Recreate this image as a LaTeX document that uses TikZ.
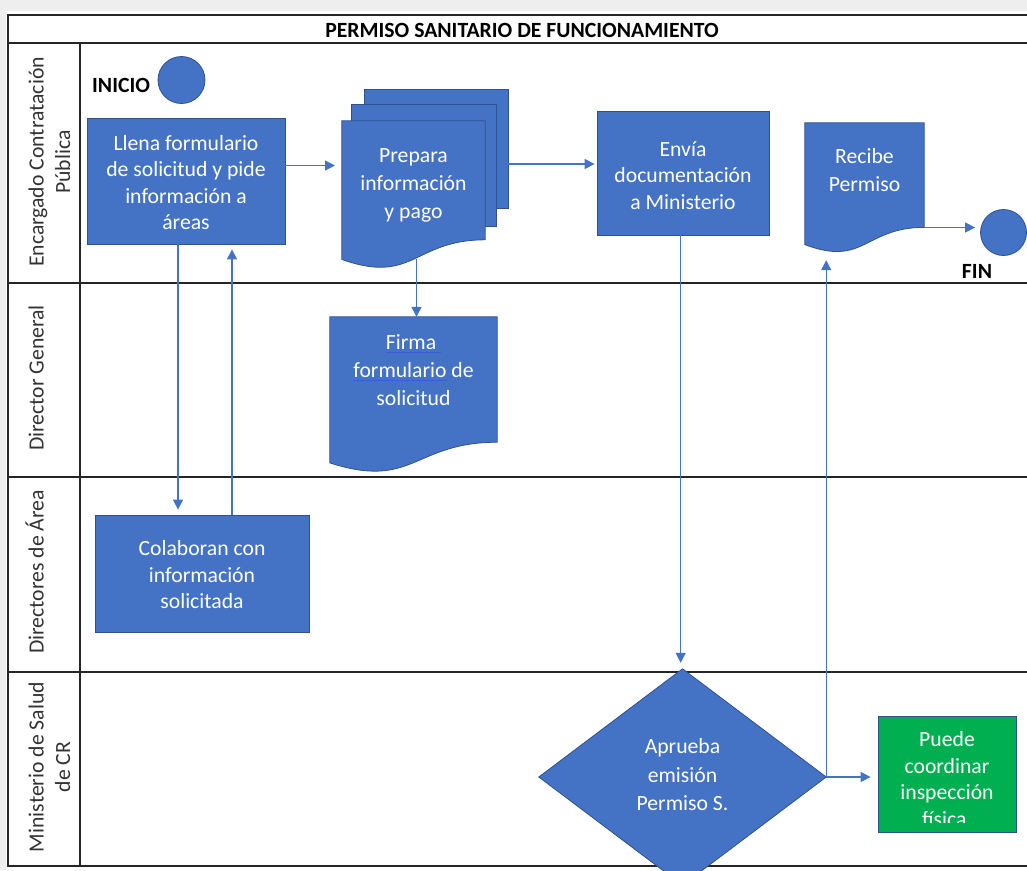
\documentclass[tikz,border=0pt]{standalone}
\usepackage{fontspec}
\setmainfont{Carlito}
\usetikzlibrary{arrows.meta,calc}
\definecolor{boxblue}{HTML}{4472C4}
\definecolor{edgeblue}{HTML}{2F528F}
\definecolor{okgreen}{HTML}{00B050}
\definecolor{spellblue}{HTML}{3B5BDB}
\definecolor{pagegray}{HTML}{EEEEEE}
% blue underline placed under a word
\newcommand\spellmark[1]{\setbox0\hbox{#1}\rlap{\color{spellblue}\rule[-4pt]{\wd0}{1.1pt}}\box0\relax}
% wavy-bottomed document outline drawn on a frame node
\newcommand\docpath[1]{(#1.north west) -- (#1.north east)
  -- ($(#1.north east)!0.802!(#1.south east)$)
  .. controls ($(#1.north)!0.802!(#1.south)$) and ($(#1.north)!1.107!(#1.south)$)
  .. ($(#1.north west)!0.934!(#1.south west)$) -- cycle}
\begin{document}
\begin{tikzpicture}[x=1pt,y=-1pt,
  every node/.style={font=\fontsize{21.7}{26.5}\selectfont},
  lane/.style={draw=black!85,line width=1.5pt},
  task/.style={fill=boxblue,draw=edgeblue,line width=0.8pt,inner sep=0pt},
  boxtext/.style={text=white,align=center,inner sep=0pt},
  frame/.style={draw=none,inner sep=0pt},
  shapefill/.style={fill=boxblue,draw=edgeblue,line width=0.8pt},
  flow/.style={draw=boxblue,line width=1.3pt,-{Triangle[length=10pt,width=10pt]}},
  lanelabel/.style={rotate=90,align=center,text=black!80,inner sep=0pt,anchor=base},
  term/.style={circle,fill=boxblue,draw=edgeblue,line width=0.8pt,minimum size=47pt,inner sep=0pt},
  termlabel/.style={font=\fontsize{21.7}{26.5}\selectfont\bfseries,inner sep=0pt}
]
\useasboundingbox (0,0) rectangle (1027,870);
\fill[pagegray] (0,0) rectangle (1027,870);
\fill[white] (6,11) rectangle (1027,870);

% pool and lanes
\draw[lane] (1030,15) -- (8,15) -- (8,866) -- (1030,866);
\draw[lane] (8,43) -- (1030,43);
\draw[lane] (8,283) -- (1030,283);
\draw[lane] (8,477) -- (1030,477);
\draw[lane] (8,672) -- (1030,672);
\draw[lane] (80,43) -- (80,866);

\node[font=\fontsize{21.7}{26.5}\selectfont\bfseries,inner sep=0pt] (title) at (522,30) {PERMISO SANITARIO DE FUNCIONAMIENTO};

% the base anchor of a two-line label sits on its second line
\node[lanelabel] (lab1) at (70,162) {Encargado Contratación\\Pública};
\node[lanelabel] (lab2) at (43.5,378) {Director General};
\node[lanelabel] (lab3) at (43.5,572) {Directores de Área};
\node[lanelabel] (lab4) at (70,767) {Ministerio de Salud\\de CR};

% start and end
\node[term] (inicio) at (181.5,80) {};
\node[termlabel,anchor=west] (iniciotxt) at (92,85) {INICIO};
\node[term,minimum size=46pt] (fin) at (1003.5,232.5) {};
\node[termlabel] (fintxt) at (977,271) {FIN};

% process boxes
\node[task,minimum width=198pt,minimum height=126pt] (llena) at (186,181) {};
\node[boxtext] (llenatxt) at (186,182.5)
  {Llena formulario\\de solicitud y pide\\información a\\áreas};
\node[task,minimum width=172pt,minimum height=124pt] (envia) at (683,173) {};
\node[boxtext] (enviatxt) at (683,175.5) {Envía\\documentación\\a Ministerio};
\node[task,minimum width=214pt,minimum height=117pt] (colab) at (202,573.5) {};
\node[boxtext] (colabtxt) at (202,575) {Colaboran con\\información\\solicitada};

% stacked documents
\node[frame,minimum width=143pt,minimum height=118pt] (prepback) at (436.5,149) {};
\node[frame,minimum width=144pt,minimum height=121pt] (prepmid) at (424,165.5) {};
\node[frame,minimum width=143pt,minimum height=148pt] (prepfront) at (413.5,195) {};
\fill[shapefill] (prepback.north west) rectangle (prepback.south east);
\fill[shapefill] (prepmid.north west) rectangle (prepmid.south east);
\fill[shapefill] \docpath{prepfront};
\node[boxtext,font=\fontsize{21.7}{28}\selectfont] (prep) at (413.5,185) {Prepara\\información\\y pago};

% single documents
\node[frame,minimum width=119pt,minimum height=130pt] (recibe) at (864.5,188) {};
\fill[shapefill] \docpath{recibe};
\node[boxtext,font=\fontsize{21.7}{28}\selectfont] (recibetxt) at (864.5,170) {Recibe\\Permiso};

\node[frame,minimum width=167pt,minimum height=156pt] (firma) at (413.5,395) {};
\fill[shapefill] \docpath{firma};
\node[boxtext,font=\fontsize{21.7}{28}\selectfont] (firmatxt) at (413.5,370) {\spellmark{Firma\ }\\\spellmark{formulario} de\\solicitud};

% decision
\node[frame,minimum width=287pt,minimum height=216pt] (apr) at (682.5,777) {};
\fill[shapefill] (apr.north) -- (apr.east) -- (apr.south) -- (apr.west) -- cycle;
\node[boxtext,font=\fontsize{21.7}{28.5}\selectfont] (aprtxt) at (682.5,775) {Aprueba\\emisión\\Permiso S.};

% optional inspection, its last line cut by the text area
\node[task,fill=okgreen,minimum width=138pt,minimum height=116pt] (puede) at (947,774) {};
\begin{scope}
  \clip (puede.north west) rectangle ([yshift=10pt]puede.south east);
  \node[boxtext] (puedetxt) at (947,779) {Puede\\coordinar\\inspección\\física.};
\end{scope}

% connector end points
\coordinate (prepin) at (342,165.5);
\coordinate (prepout) at (508,164);
\coordinate (prepbottom) at (416.5,259);
\coordinate (downx) at (178,0);
\coordinate (upx) at (232,0);
\coordinate (sendx) at (680.7,0);
\coordinate (recout) at (924,227.5);

% connectors
\draw[flow,shorten >=7pt] (llena.east |- prepin) -- (prepin);
\draw[flow,shorten >=2pt] (prepout) -- (prepout -| envia.west);
\draw[flow,shorten >=6pt] (envia.south -| sendx) -- (apr.north -| sendx);
\draw[flow,shorten >=5pt] (llena.south -| downx) -- (colab.north -| downx);
\draw[flow,shorten >=5pt] (colab.north -| upx) -- (llena.south -| upx);
\draw[flow] (prepbottom) -- (firma.north -| prepbottom);
\draw[flow,shorten >=7pt] (apr.east) -- (puede.west |- apr.east);
\draw[flow,shorten >=7pt] (apr.east) -- (recibe.south -| apr.east);
\draw[flow,shorten >=5pt] (recout) -- (recout -| fin.west);
\end{tikzpicture}
\end{document}
